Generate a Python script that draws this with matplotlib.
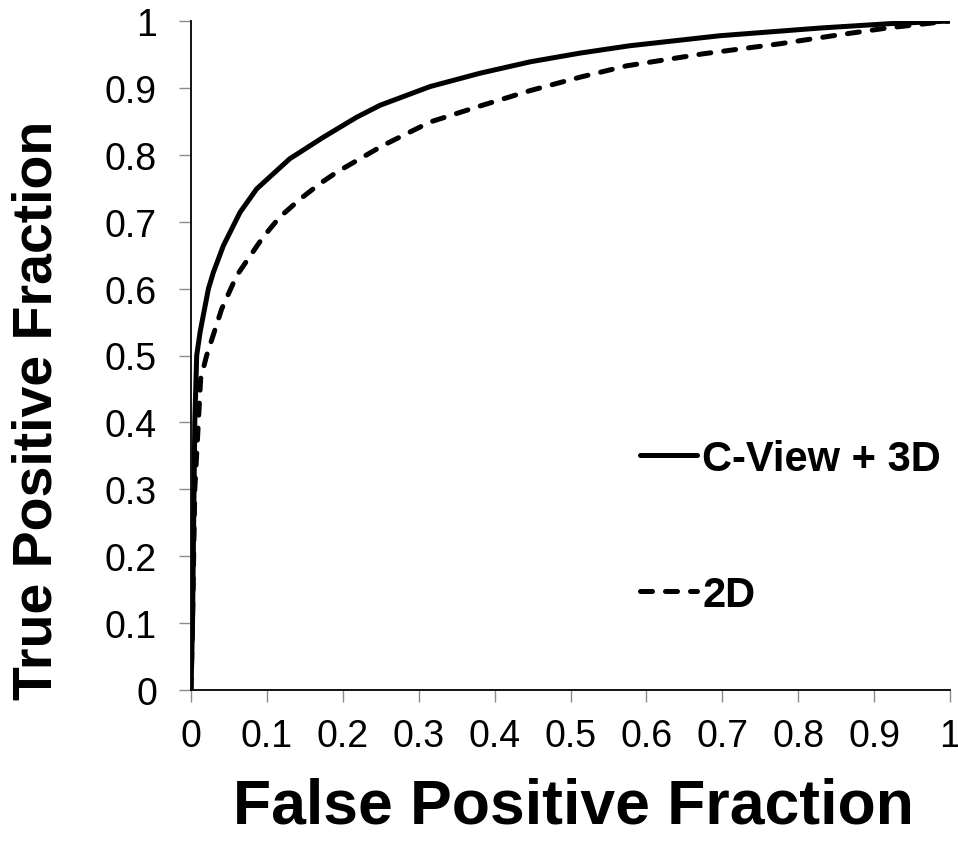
import matplotlib
matplotlib.use('Agg')
import matplotlib.pyplot as plt

# ROC curves
fpf_cview = [0, 0.002, 0.003, 0.004, 0.005, 0.0075, 0.012, 0.0162, 0.023, 0.0294, 0.0426,
             0.0646, 0.0865, 0.130, 0.174, 0.218, 0.249, 0.315, 0.381, 0.447, 0.5125,
             0.578, 0.697, 0.829, 0.92, 1.0]
tpf_cview = [0, 0.1, 0.2, 0.3, 0.4, 0.5, 0.535, 0.56, 0.6, 0.624, 0.664,
             0.714, 0.749, 0.794, 0.826, 0.856, 0.874, 0.902, 0.922, 0.939, 0.952,
             0.963, 0.978, 0.9895, 0.996, 1.0]

fpf_2d = [0, 0.002, 0.0035, 0.005, 0.0097, 0.0127, 0.0206, 0.032, 0.0404, 0.060, 0.078,
          0.095, 0.117, 0.144, 0.170, 0.192, 0.227, 0.253, 0.315, 0.381, 0.447,
          0.5125, 0.574, 0.675, 0.776, 0.846, 0.917, 1.0]
tpf_2d = [0, 0.1, 0.2, 0.3, 0.4, 0.465, 0.5, 0.54, 0.5695, 0.619, 0.649,
          0.677, 0.707, 0.734, 0.757, 0.774, 0.797, 0.814, 0.849, 0.873, 0.896,
          0.916, 0.933, 0.951, 0.966, 0.978, 0.9895, 1.0]

ticks = [0, 0.1, 0.2, 0.3, 0.4, 0.5, 0.6, 0.7, 0.8, 0.9, 1]
tick_labels = ['0', '0.1', '0.2', '0.3', '0.4', '0.5', '0.6', '0.7', '0.8', '0.9', '1']

plt.rcParams['font.family'] = ['Liberation Sans', 'DejaVu Sans']

fig = plt.figure(figsize=(9.58, 8.53), dpi=100)
ax = fig.add_axes([191 / 958, 1 - 691 / 853, 759 / 958, 669 / 853])

ax.plot(fpf_2d, tpf_2d, color='black', lw=3.6, dashes=(2.4, 2.6),
        dash_capstyle='round', solid_joinstyle='round', label='2D', zorder=2)
ax.plot(fpf_cview, tpf_cview, color='black', lw=3.6,
        solid_capstyle='round', solid_joinstyle='round', label='C-View + 3D', zorder=3)

ax.set_xlim(0, 1)
ax.set_ylim(0, 1)
ax.set_xticks(ticks)
ax.set_xticklabels(tick_labels)
ax.set_yticks(ticks)
ax.set_yticklabels(tick_labels)

for s in ['top', 'right']:
    ax.spines[s].set_visible(False)
for s in ['left', 'bottom']:
    ax.spines[s].set_linewidth(1.3)
    ax.spines[s].set_color('black')

ax.tick_params(axis='both', direction='out', length=8.5, width=1, color='#8c8c8c',
               labelsize=27)
ax.tick_params(axis='y', pad=16)
ax.tick_params(axis='x', pad=12)

ax.set_xlabel('False Positive Fraction', fontsize=45, fontweight='bold', va='center')
ax.xaxis.set_label_coords(0.504, -0.174)
ax.set_ylabel('True Positive Fraction', fontsize=40, fontweight='bold', va='center')
ax.yaxis.set_label_coords(-0.2016, 0.42)

handles, labels = ax.get_legend_handles_labels()
leg = ax.legend(handles[::-1], labels[::-1], loc='center left',
                bbox_to_anchor=(0.5916, 0.244), frameon=False,
                prop={'size': 30, 'weight': 'bold'}, handlelength=1.37,
                handletextpad=0.12, labelspacing=2.31, borderpad=0, borderaxespad=0)

plt.savefig('out.png', dpi=100)
